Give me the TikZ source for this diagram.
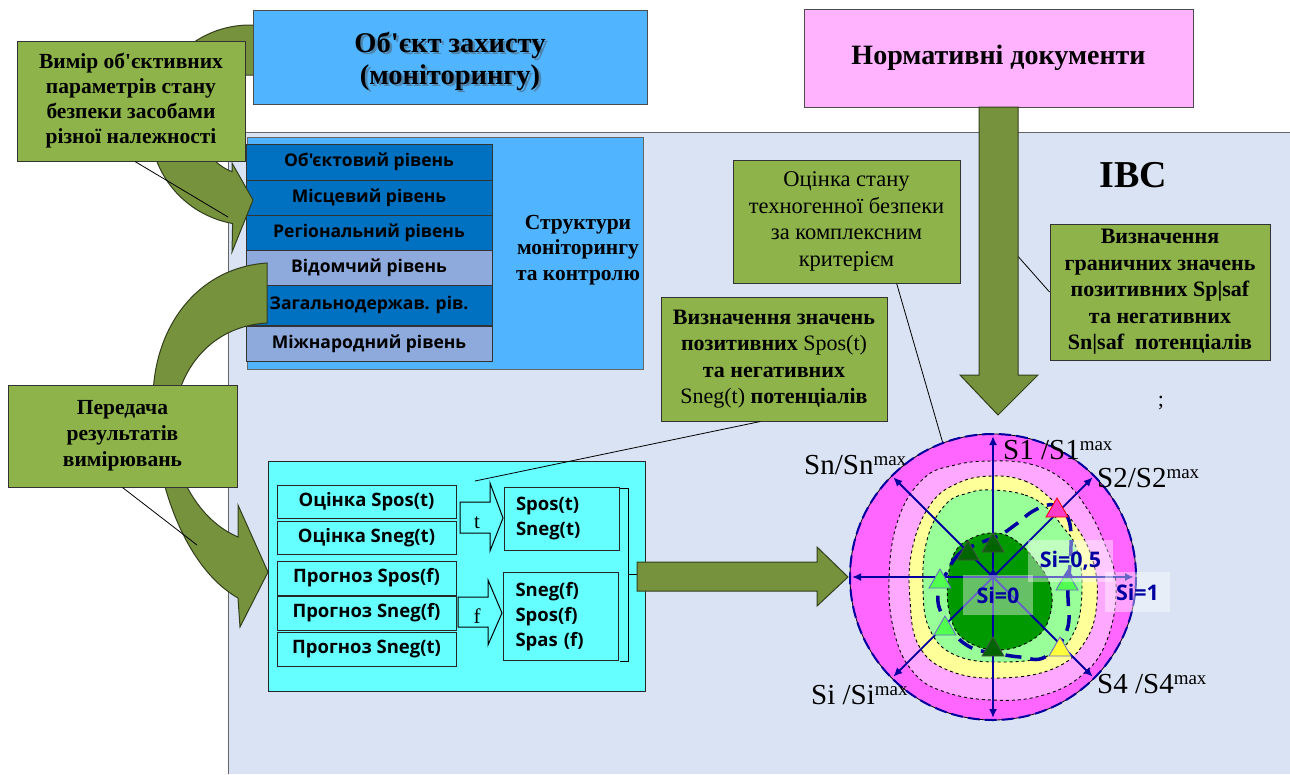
\documentclass[tikz,border=0pt]{standalone}
\usepackage{fontspec}
\setmainfont{Liberation Serif}[Ligatures=TeXOff]
\newfontfamily\sansfont{Open Sans}
\usepackage{xcolor}
\usepackage{tikz}
\usetikzlibrary{calc}
\usetikzlibrary{arrows.meta}

\definecolor{panelbg}{RGB}{218,227,243}
\definecolor{skyblue}{RGB}{80,180,255}
\definecolor{normpink}{RGB}{255,179,255}
\definecolor{lvldark}{RGB}{0,112,192}
\definecolor{lvllight}{RGB}{142,169,219}
\definecolor{cyanbox}{RGB}{102,255,255}
\definecolor{olivebox}{RGB}{141,179,74}
\definecolor{olivearrow}{RGB}{118,146,60}
\definecolor{oliveedge}{RGB}{50,62,28}
\definecolor{ringmag}{RGB}{255,102,255}
\definecolor{ringpink}{RGB}{255,168,255}
\definecolor{ringyellow}{RGB}{255,255,153}
\definecolor{ringlgreen}{RGB}{153,255,153}
\definecolor{ringdgreen}{RGB}{0,153,0}
\definecolor{navy}{RGB}{0,0,160}

\tikzset{
  greenbox/.style={draw=black!80, line width=1pt, fill=olivebox, align=center, inner sep=0pt},
  lvlbox/.style={draw=black!80, line width=1pt, minimum width=246, minimum height=#1, inner sep=0pt,
    font=\sansfont\fontsize{17.5}{18}\selectfont\bfseries},
  cellbox/.style={draw=black!85, line width=1pt, fill=cyanbox, minimum width=179, minimum height=#1, inner sep=0pt,
    font=\sansfont\fontsize{18.5}{20}\selectfont\bfseries},
  outbox/.style={draw=black!85, line width=1pt, fill=cyanbox, inner xsep=12pt, text width=91, align=left,
    font=\sansfont\fontsize{18.5}{25}\selectfont\bfseries},
  blockarrow/.style={draw=oliveedge, line width=1pt, fill=olivearrow},
  callout/.style={draw=black, line width=0.8pt},
  axis/.style={draw=navy, line width=1.8pt, -{Latex[length=9,width=8]}},
  zone/.style={draw=black, dashed, line width=0.9pt},
  axislbl/.style={font=\fontsize{29}{29}\selectfont, anchor=base west, inner sep=0pt},
  sival/.style={fill=white, fill opacity=0.4, text opacity=1, text=navy, inner sep=0pt,
    font=\sansfont\fontsize{21.5}{22}\selectfont\bfseries},
  marker/.style={line width=0.8pt}
}
\newcommand{\mx}[1]{#1{\fontsize{19}{19}\selectfont\raisebox{9pt}{max}}}

\begin{document}
\begin{tikzpicture}[x=1pt,y=-1pt]
\useasboundingbox (0,0) rectangle (1290,774);
\fill[white] (0,0) rectangle (1290,774);

% information system panel
\fill[panelbg] (228,132) rectangle (1290,774);
\draw[black!60, line width=1pt] (228,774) -- (228,132) -- (1290,132);

% structures of monitoring
\node[draw=black!60, line width=1pt, fill=skyblue, minimum width=396, minimum height=232, inner sep=0pt] (struct) at (445,253) {};
\node[align=center, font=\fontsize{21.5}{25.5}\selectfont\bfseries] (structlbl) at (578,250) {Структури\\моніторингу\\та контролю};

\foreach \n/\yc/\h/\c/\t in {1/162/36/lvldark/{Об'єктовий рівень},
    2/197.5/35/lvldark/{Місцевий рівень},
    3/232.5/35/lvldark/{Регіональний рівень},
    4/267.5/35/lvllight/{Відомчий рівень},
    5/305/40/lvldark/{Загальнодержав. рів.},
    6/343.5/35/lvllight/{Міжнародний рівень}}
  \node[lvlbox=\h, fill=\c] (lvl\n) at (369,\yc) {\t};

% curved arrows
\draw[blockarrow] (262,25) -- (250,25) arc[start angle=-90, end angle=-260, radius=100]
  -- (232,252) -- (253,200) -- (232,163) -- (232,171.7)
  arc[start angle=-249, end angle=-90, radius=50] -- (262,75) -- cycle;

\draw[blockarrow] (267,263) .. controls (195,268) and (153,330) .. (153,400)
  .. controls (153,480) and (185,568) .. (238,598)
  -- (240,627) -- (268,572) -- (238,505) -- (238,537)
  .. controls (198,520) and (173,472) .. (173,432)
  .. controls (173,372) and (210,326) .. (267,323) -- cycle;

% top boxes
\node[draw=black!70, line width=1pt, fill=skyblue, minimum width=394, minimum height=94, inner sep=0pt] (object) at (450,57) {};
\node[align=center, text=black!70, opacity=0.45, font=\fontsize{28.5}{32}\selectfont\bfseries] at (452.5,63.5) {Об'єкт захисту\\(моніторингу)};
\node[align=center, font=\fontsize{28.5}{32}\selectfont\bfseries] (objlbl) at (450,61) {Об'єкт захисту\\(моніторингу)};

\node[draw=black!70, line width=1pt, fill=normpink, minimum width=389, minimum height=98, inner sep=0pt,
  font=\fontsize{28}{30}\selectfont\bfseries] (norm) at (998.5,58) {Нормативні документи};

% green notes
\node[greenbox, minimum width=228, minimum height=120, font=\fontsize{21.5}{25}\selectfont\bfseries] (meas) at (131,101)
  {Вимір об'єктивних\\параметрів стану\\безпеки засобами\\різної належності};
\node[greenbox, minimum width=229, minimum height=102, font=\fontsize{21.5}{26}\selectfont\bfseries] (trans) at (122.5,436)
  {Передача\\результатів\\вимірювань};
\node[greenbox, minimum width=227, minimum height=123, font=\fontsize{22.5}{26.5}\selectfont] (evalbox) at (846.5,221.5)
  {Оцінка стану\\техногенної безпеки\\за комплексним\\критерієм};
\node[greenbox, minimum width=226, minimum height=124, font=\fontsize{22}{26.5}\selectfont\bfseries] (potbox) at (774,359)
  {Визначення значень\\позитивних {\mdseries Spos(t)}\\та негативних\\{\mdseries Sneg(t)} потенціалів};
\node[greenbox, minimum width=220, minimum height=136, font=\fontsize{22}{26.5}\selectfont\bfseries] (limbox) at (1160,292)
  {Визначення\\граничних значень\\позитивних Sp|saf\\та негативних\\Sn|saf\ \ потенціалів};

\node[font=\fontsize{38}{40}\selectfont\bfseries] (ivs) at (1133,175) {ІВС};
\node[font=\fontsize{22}{22}\selectfont] (semi) at (1161,403) {;};

% callouts
\coordinate (measpt) at (228,217);
\coordinate (transpt) at (197,545);
\coordinate (evalpt) at (948,461);
\coordinate (limpt) at (993,228);
\coordinate (potpt) at (475,481);
\draw[callout] (meas.south) ++(4,0) -- (measpt);
\draw[callout] (trans.south) -- (transpt);
\draw[callout] ($(evalbox.south west)!0.72!(evalbox.south east)$) -- (evalpt);
\draw[callout] (limbox.west) -- (limpt);

% estimation block
\node[draw=black!85, line width=1pt, fill=cyanbox, minimum width=377, minimum height=230, inner sep=0pt] (calcbox) at (456.5,576.5) {};
\draw[callout] ($(potbox.south west)!0.44!(potbox.south east)$) -- (potpt);

\node[cellbox=33] (c1) at (366.5,501.5) {Оцінка Spos(t)};
\node[cellbox=33] (c2) at (366.5,537.5) {Оцінка Sneg(t)};
\node[cellbox=34] (c3) at (366.5,578) {Прогноз Spos(f)};
\node[cellbox=34] (c4) at (366.5,613) {Прогноз Sneg(f)};
\node[cellbox=34] (c5) at (366.5,649) {Прогноз Sneg(t)};

\node[outbox, minimum height=63] (outt) at (561.5,519) {Spos(t)\\Sneg(t)};
\node[outbox, minimum height=88] (outf) at (561,616.5) {Sneg(f)\\Spos(f)\\Spas (f)};

\draw[line width=1pt, fill=cyanbox] (460,502) -- (490,502) -- (490,483) -- (503,518) -- (490,551) -- (490,533) -- (460,533) -- cycle;
\draw[line width=1pt, fill=cyanbox] (458,597) -- (488,597) -- (488,580) -- (502,613) -- (488,645) -- (488,627) -- (458,627) -- cycle;
\node[font=\fontsize{21}{21}\selectfont] (tlbl) at (477,523) {t};
\node[font=\fontsize{21}{21}\selectfont] (flbl) at (477,616) {f};

\draw[line width=1pt] (620,488) -- (628,488) -- (628,661) -- (620,661);
\draw[line width=1pt] (628,574) -- (637,574);

% straight arrows
\draw[blockarrow] (637,562) -- (817,562) -- (817,547) -- (848,577) -- (817,606) -- (817,591) -- (637,591) -- cycle;
\draw[blockarrow] (979,107) -- (1018,107) -- (1018,375) -- (1038,375) -- (998,415) -- (960,375) -- (979,375) -- cycle;

% safety chart
\coordinate (ctr) at (993,577);
\fill[ringmag] (ctr) circle[radius=143];
\fill[ringpink] plot[smooth cycle, tension=0.7] coordinates {(992,461) (1030,464) (1062,479) (1086,507) (1104,542) (1116,585) (1107,640) (1081,676) (1040,696) (992,700) (945,692) (914,673) (895,635) (889,580) (898,520) (923,479) (955,465)};
\draw[zone] plot[smooth cycle, tension=0.7] coordinates {(992,461) (1030,464) (1062,479) (1086,507) (1104,542) (1116,585) (1107,640) (1081,676) (1040,696) (992,700) (945,692) (914,673) (895,635) (889,580) (898,520) (923,479) (955,465)};
\fill[ringyellow] plot[smooth cycle, tension=0.7] coordinates {(992,476) (1025,481) (1050,498) (1073,522) (1092,558) (1097,600) (1086,640) (1055,668) (1000,678) (950,671) (919,646) (910,600) (912,550) (930,505) (958,483)};
\draw[zone] plot[smooth cycle, tension=0.7] coordinates {(992,476) (1025,481) (1050,498) (1073,522) (1092,558) (1097,600) (1086,640) (1055,668) (1000,678) (950,671) (919,646) (910,600) (912,550) (930,505) (958,483)};
\fill[ringlgreen] plot[smooth cycle, tension=0.7] coordinates {(992,490) (1025,495) (1047,508) (1062,526) (1076,547) (1082,585) (1075,630) (1050,655) (1000,662) (955,655) (930,630) (923,590) (927,540) (945,505) (968,493)};
\draw[zone] plot[smooth cycle, tension=0.7] coordinates {(992,490) (1025,495) (1047,508) (1062,526) (1076,547) (1082,585) (1075,630) (1050,655) (1000,662) (955,655) (930,630) (923,590) (927,540) (945,505) (968,493)};
\fill[ringdgreen] plot[smooth cycle, tension=0.7] coordinates {(995,533) (1015,540) (1035,560) (1050,585) (1050,615) (1035,638) (1000,650) (965,640) (950,615) (948,580) (955,552) (972,538)};
\draw[zone] plot[smooth cycle, tension=0.7] coordinates {(995,533) (1015,540) (1035,560) (1050,585) (1050,615) (1035,638) (1000,650) (965,640) (950,615) (948,580) (955,552) (972,538)};

\foreach \a in {0,45,...,315}
  \draw[axis] (ctr) -- ++(\a:141);

\draw[navy, line width=3.5pt, dash pattern=on 16pt off 9pt] plot[smooth cycle, tension=0.7] coordinates {(947,572) (960,553) (980,543) (1000,535) (1015,525) (1035,510) (1055,505) (1068,518) (1071,545) (1068,590) (1067,630) (1045,657) (1020,657) (995,653) (972,648) (953,633) (942,615) (938,595)};

\draw[black, line width=0.8pt] (ctr) circle[radius=143];
\draw[navy, line width=2pt, dash pattern=on 12pt off 5pt] (ctr) circle[radius=143];

\foreach \x/\y/\f/\d in {1057/508/{rgb,255:red,255;green,60;blue,200}/red,
    993/543/{rgb,255:red,0;green,100;blue,0}/black!70,
    968/551/{rgb,255:red,0;green,100;blue,0}/black!70,
    993/647/{rgb,255:red,0;green,100;blue,0}/black!70,
    940/579/{rgb,255:red,80;green,255;blue,80}/navy!60,
    945/626/{rgb,255:red,80;green,255;blue,80}/navy!60,
    1067/581/{rgb,255:red,80;green,255;blue,80}/navy!60,
    1060/647/{rgb,255:red,255;green,255;blue,60}/navy!60}
  \draw[marker, fill=\f, draw=\d] (\x-11,\y+9) -- (\x,\y-10) -- (\x+11,\y+9) -- cycle;
\fill[navy] (987,578) -- (993,569) -- (999,578) -- cycle;
\fill[navy] (1062,578) -- (1068,569) -- (1074,578) -- cycle;

\node[sival, minimum width=70, minimum height=40] (si0) at (998,595) {Si=0};
\node[sival, minimum width=85, minimum height=42] (si05) at (1070.5,561) {Si=0,5};
\node[sival, minimum width=65, minimum height=40] (si1) at (1137.5,592) {Si=1};

\node[axislbl] (s1lbl) at (1003,459) {\mx{S1 /S1}};
\node[axislbl] (s2lbl) at (1097,487) {\mx{S2/S2}};
\node[axislbl] (snlbl) at (804,474) {\mx{Sn/Sn}};
\node[axislbl] (silbl) at (811,704) {\mx{Si /Si}};
\node[axislbl] (s4lbl) at (1097,693) {\mx{S4 /S4}};

\end{tikzpicture}
\end{document}
